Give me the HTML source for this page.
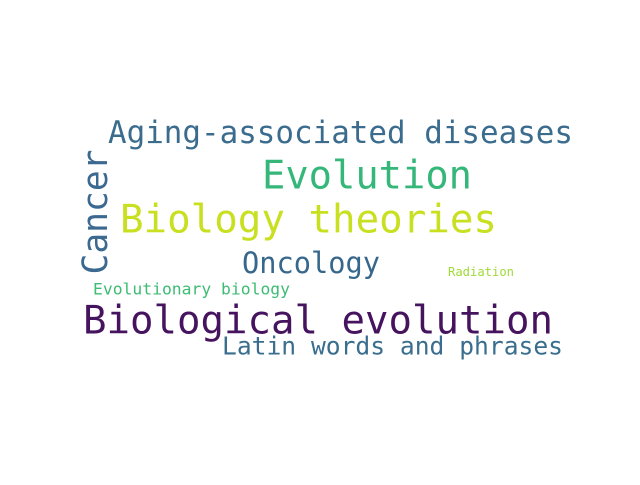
<!DOCTYPE html>
<html><head><meta charset="utf-8"><style>
html,body{margin:0;padding:0;background:#fff;}
svg text{font-family:"DejaVu Sans Mono","Liberation Mono",monospace;}
</style></head><body>
<svg width="640" height="480">
<rect width="640" height="480" fill="#fff"/>
<text x="108" y="133" font-size="31" fill="#3b6c8e" dominant-baseline="central" textLength="465" lengthAdjust="spacingAndGlyphs">Aging-associated diseases</text>
<text x="262" y="176" font-size="39" fill="#35b779" dominant-baseline="central" textLength="210" lengthAdjust="spacingAndGlyphs">Evolution</text>
<text x="120" y="220" font-size="39" fill="#c8e020" dominant-baseline="central" textLength="377" lengthAdjust="spacingAndGlyphs">Biology theories</text>
<text transform="translate(96,212) rotate(-90)" x="0" y="0" font-size="35" fill="#3b6990" text-anchor="middle" dominant-baseline="central" textLength="125" lengthAdjust="spacingAndGlyphs">Cancer</text>
<text x="242" y="263" font-size="29" fill="#38678c" dominant-baseline="central" textLength="138" lengthAdjust="spacingAndGlyphs">Oncology</text>
<text x="448" y="272" font-size="12" fill="#a0da39" dominant-baseline="central" textLength="66" lengthAdjust="spacingAndGlyphs">Radiation</text>
<text x="93" y="289" font-size="16" fill="#3dbc74" dominant-baseline="central" textLength="197" lengthAdjust="spacingAndGlyphs">Evolutionary biology</text>
<text x="83" y="321" font-size="39" fill="#46145f" dominant-baseline="central" textLength="470" lengthAdjust="spacingAndGlyphs">Biological evolution</text>
<text x="222" y="346" font-size="25" fill="#3a6e8f" dominant-baseline="central" textLength="341" lengthAdjust="spacingAndGlyphs">Latin words and phrases</text>
</svg>
</body></html>
